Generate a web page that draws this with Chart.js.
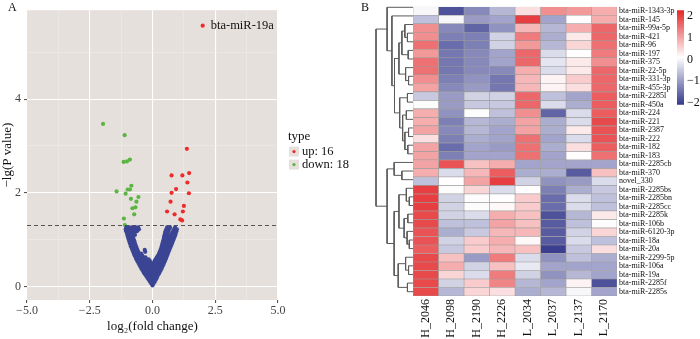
<!DOCTYPE html>
<html>
<head>
<meta charset="utf-8">
<title>miRNA volcano plot and heatmap</title>
<script src="https://cdn.jsdelivr.net/npm/chart.js@4.4.1/dist/chart.umd.min.js"></script>
<style>
  html, body { margin: 0; padding: 0; background: #fff; }
  #fig { position: relative; width: 700px; height: 339px; overflow: hidden; }
  #fig canvas { position: absolute; top: 0; }
  .tag { position: absolute; top: 0; font: 12px "Liberation Serif", serif; color: #111; }
</style>
</head>
<body>
<div id="fig">
  <canvas id="volcano" width="372" height="339" style="left:0"></canvas>
  <canvas id="dendro" width="43" height="339" style="left:370px"></canvas>
  <canvas id="heat" width="295" height="339" style="left:405px"></canvas>
  <canvas id="key" width="32" height="115" style="left:668px"></canvas>
  <div class="tag" style="left:8px">A</div>
  <div class="tag" style="left:361px">B</div>
</div>
<script>
// ---------- panel A: volcano ----------
const xTicks = [-5, -3.75, -2.5, -1.25, 0, 1.25, 2.5, 3.75, 5];
const yTicks = [0, 1, 2, 3, 4, 5];
const cutoff = 1.301; // -lg(0.05)

// significant up (first one is labelled)
const upX = [2.0, 1.37, 0.76, 1.19, 1.46, 1.39, 0.76, 1.45, 0.94, 0.72, 1.25, 0.58, 1.21, 0.88, 1.11, 1.18];
const upY = [5.57, 2.94, 2.37, 2.37, 2.42, 2.22, 2.0, 1.99, 2.08, 1.81, 1.72, 1.60, 1.60, 1.54, 1.43, 1.41];
const upName = 'bta-miR-19a';

// significant down
const downX = [-1.97, -1.11, -1.15, -1.02, -0.90, -0.84, -1.43, -0.99, -0.90, -1.07, -0.56, -0.86, -0.64, -0.68, -0.80, -0.73, -1.14, -1.10];
const downY = [3.47, 3.23, 2.66, 2.67, 2.71, 2.15, 2.03, 2.07, 2.07, 1.98, 1.91, 1.87, 1.81, 1.69, 1.67, 1.54, 1.45, 1.31];

// not significant, read row by row: [-lg p, [log2 fc ...]]
const blueLevels = [
  [0.02, [0]],
  [0.06, [-0.05, 0.04]],
  [0.10, [-0.1, -0.02, 0.05, 0.09]],
  [0.14, [-0.15, -0.07, 0.01, 0.08, 0.13]],
  [0.18, [-0.2, -0.11, -0.02, 0.06, 0.13, 0.17]],
  [0.22, [-0.25, -0.16, -0.07, 0.02, 0.11, 0.2]],
  [0.26, [-0.3, -0.2, -0.11, -0.02, 0.07, 0.16, 0.24]],
  [0.30, [-0.35, -0.25, -0.15, -0.06, 0.03, 0.12, 0.2, 0.28]],
  [0.34, [-0.39, -0.3, -0.2, -0.1, 0, 0.09, 0.18, 0.26, 0.32]],
  [0.38, [-0.44, -0.34, -0.24, -0.14, -0.04, 0.06, 0.15, 0.24, 0.31, 0.36]],
  [0.42, [-0.48, -0.38, -0.28, -0.18, -0.08, 0.02, 0.12, 0.21, 0.3, 0.39]],
  [0.46, [-0.52, -0.42, -0.32, -0.22, -0.12, -0.02, 0.09, 0.19, 0.28, 0.36, 0.43]],
  [0.50, [-0.56, -0.46, -0.36, -0.26, -0.16, -0.06, 0.06, 0.16, 0.25, 0.34, 0.42, 0.46]],
  [0.54, [-0.6, -0.5, -0.4, -0.3, -0.2, -0.1, 0.08, 0.18, 0.27, 0.36, 0.44, 0.49]],
  [0.58, [-0.64, -0.54, -0.44, -0.34, -0.24, -0.15, 0.12, 0.22, 0.31, 0.4, 0.48, 0.52]],
  [0.62, [-0.67, -0.57, -0.47, -0.37, -0.28, 0.17, 0.27, 0.36, 0.45, 0.55]],
  [0.66, [-0.71, -0.61, -0.51, -0.41, 0.22, 0.31, 0.4, 0.49, 0.58]],
  [0.70, [-0.74, -0.64, -0.54, -0.45, 0.26, 0.35, 0.44, 0.53, 0.61]],
  [0.74, [-0.77, -0.67, -0.57, -0.29, 0.29, 0.38, 0.47, 0.56, 0.64]],
  [0.78, [-0.8, -0.7, -0.6, -0.31, 0.32, 0.41, 0.5, 0.59, 0.67]],
  [0.82, [-0.83, -0.73, -0.63, 0.35, 0.44, 0.53, 0.62, 0.7]],
  [0.86, [-0.86, -0.76, -0.66, 0.37, 0.46, 0.56, 0.65, 0.73]],
  [0.90, [-0.88, -0.79, -0.69, 0.39, 0.49, 0.59, 0.68, 0.76]],
  [0.94, [-0.91, -0.81, -0.71, 0.41, 0.51, 0.61, 0.71, 0.79]],
  [0.98, [-0.93, -0.83, -0.73, 0.43, 0.53, 0.64, 0.74, 0.82]],
  [1.02, [-0.96, -0.86, -0.76, 0.45, 0.55, 0.67, 0.77, 0.85]],
  [1.06, [-0.98, -0.88, -0.78, 0.46, 0.57, 0.7, 0.8, 0.88]],
  [1.10, [-1.0, -0.9, -0.8, -0.7, 0.48, 0.59, 0.74, 0.84, 0.91]],
  [1.14, [-1.02, -0.93, -0.83, -0.72, 0.5, 0.61, 0.78, 0.87, 0.93]],
  [1.18, [-1.05, -0.95, -0.85, -0.74, -0.62, 0.52, 0.63, 0.82, 0.95]],
  [1.22, [-1.07, -0.97, -0.87, -0.76, -0.64, -0.54, 0.55, 0.66, 0.86, 0.97]],
  [1.26, [-1.04, -0.92, -0.8, -0.67, -0.57, 0.58, 0.7, 0.9]]
];

// ---------- panel B: heatmap ----------
const samples = ['H_2046', 'H_2098', 'H_2190', 'H_2226', 'L_2034', 'L_2037', 'L_2137', 'L_2170'];
const mirnas = ['bta-miR-1343-3p', 'bta-miR-145', 'bta-miR-99a-5p', 'bta-miR-421', 'bta-miR-96',
  'bta-miR-197', 'bta-miR-375', 'bta-miR-22-5p', 'bta-miR-331-3p', 'bta-miR-455-3p', 'bta-miR-2285l',
  'bta-miR-450a', 'bta-miR-224', 'bta-miR-221', 'bta-miR-2387', 'bta-miR-222', 'bta-miR-182',
  'bta-miR-183', 'bta-miR-2285cb', 'bta-miR-370', 'novel_330', 'bta-miR-2285bs', 'bta-miR-2285bn',
  'bta-miR-2285cc', 'bta-miR-2285k', 'bta-miR-106b', 'bta-miR-6120-3p', 'bta-miR-18a', 'bta-miR-20a',
  'bta-miR-2299-5p', 'bta-miR-106a', 'bta-miR-19a', 'bta-miR-2285f', 'bta-miR-2285s'];

// row-scaled expression, one array per sample (same order as mirnas)
const h2046 = [0, -0.6, 1.2, 1.2, 1.5, 1.1, 1.5, 1.5, 1.2, 1.0, -0.5, 0.05, 0.9, 0.9, 1.0, 0.4, 1.0, 1.0, 1.0, 0.9, -0.6, 2.0, 2.0, 2.0, 1.9, 1.9, 1.8, 1.8, 1.7, 1.9, 1.9, 1.9, 1.9, 1.9];
const h2098 = [-1.8, 0, -1.2, -1.3, -1.5, -1.4, -1.4, -1.4, -1.3, -1.2, -1.0, -1.0, -1.1, -1.3, -1.2, -1.3, -1.5, -1.3, 1.8, -0.3, 0.1, 0.05, -0.4, -0.4, -0.4, -0.6, -0.8, -0.4, -0.5, 0.7, 0.9, 0.5, -0.4, -0.7];
const h2190 = [-1.2, -1.0, -1.6, -1.3, -1.3, -1.2, -1.2, -1.2, -1.1, -1.0, -0.4, -0.5, 0.05, -0.7, -0.7, -0.8, -0.9, -0.9, 0.7, 0.8, 1.0, 0.5, 0.05, 0.05, -0.3, -0.6, -0.5, 0.6, 0.6, -1.0, -0.4, -0.3, 0.6, 0.5];
const h2226 = [-0.7, -0.9, -1.1, -0.4, -0.4, -0.9, -0.9, -1.2, -1.4, -1.4, -0.4, -0.5, -0.6, -0.8, -0.9, -0.9, -1.0, -0.9, 0.9, 1.7, 2.0, -0.3, 0.1, 0.15, 0.9, 1.0, 0.8, 0.9, 0.8, 1.4, 0.7, 1.4, 1.3, 0.4];
const l2034 = [0.4, 2.0, 0.8, 1.4, 1.1, 1.6, 1.6, 0.9, 0.8, 0.8, 1.6, 1.6, 1.2, 1.0, 1.0, 1.5, 1.5, 1.5, -0.9, -0.8, -0.4, 0.1, 0.6, 0.6, 0.7, 0.7, 0.8, 0.15, 0.7, -0.3, -0.15, -0.4, -0.7, -0.8];
const l2037 = [1.2, -0.9, -0.7, -0.8, -0.7, -0.3, -0.2, -0.3, 0.2, 0.2, -0.6, -0.3, -1.6, -0.8, -0.8, -0.9, -0.8, -0.9, -0.9, -0.8, -1.1, -1.3, -1.5, -1.5, -1.8, -1.7, -1.7, -1.7, -2.0, -1.1, -0.9, -1.1, -0.9, -0.7];
const l2137 = [1.1, 0.1, 0.9, 0.3, 0.5, 0.1, 0.3, 0.3, 0.6, 0.4, -0.9, -0.8, -0.3, -0.3, 0.3, -0.3, 0.4, 0.1, -0.9, -1.7, -1.0, -0.8, -0.3, -0.3, -0.7, -0.6, -0.4, -0.3, -0.5, -0.6, -0.9, -0.7, 0.2, 0];
const l2170 = [0.9, 0.9, 1.6, 1.6, 1.5, 1.4, 1.2, 1.6, 1.6, 1.6, 1.7, 1.7, 1.7, 1.9, 1.8, 1.8, 1.7, 1.5, -0.9, 0.7, -0.3, -0.5, -0.6, -0.6, 0.3, 0.05, 0.5, -0.6, 0.4, -0.8, -0.9, -0.9, -1.8, -0.9];
const sampleValues = [h2046, h2098, h2190, h2226, l2034, l2037, l2137, l2170];

// colour key
const keyMin = -2.08, keyMax = 2.25;
const keyTicks = [-2, -1, 0, 1, 2];

// row dendrogram, hclust style: negative = leaf (row index + 1), positive = earlier merge
const treeMerge = [
  [-4, -5], [-3, 1], [-6, -7], [2, 3], [-9, -10], [-8, 5], [4, 6], [-11, -12], [-13, -14],
  [-15, -16], [-17, -18], [10, 11], [9, 12], [8, 13], [7, 14], [-2, 15], [-1, 16],
  [-20, -21], [-19, 18], [-23, -24], [-22, 20], [-25, -26], [-28, -29], [-27, 23], [22, 24],
  [21, 25], [-31, -32], [-30, 27], [-33, -34], [28, 29], [26, 30], [19, 31], [17, 32]
];
const treeHeight = [1.5, 2.2, 1.3, 3.0, 1.2, 2.0, 3.8, 1.5, 1.8, 1.2, 1.4, 2.2, 2.8, 3.6, 5.0, 5.7, 7.0,
  3.0, 5.1, 1.0, 1.8, 1.4, 1.0, 1.6, 2.4, 3.8, 1.2, 2.0, 1.5, 4.0, 5.1, 7.0, 10];

// ---------- common ----------
const SERIF = "'Liberation Serif', 'Times New Roman', serif";
Chart.defaults.font.family = SERIF;
Chart.defaults.animation = false;
Chart.defaults.responsive = false;
Chart.defaults.plugins.legend.display = false;
Chart.defaults.plugins.tooltip.enabled = false;

const panelGrey = '#e6e0dd';
const upColor = '#ee2a2a', downColor = '#5cb540', flatColor = '#3b4594';
const fmtMinus = (s) => String(s).replace('-', '\u2212');

// ---------- volcano ----------
const bluePts = blueLevels.flatMap(([y, xs]) => xs.map(x => ({ x, y })));
const upPts = upX.map((x, i) => ({ x, y: upY[i] }));
const downPts = downX.map((x, i) => ({ x, y: downY[i] }));
const xMajor = (v) => Math.abs(v / 2.5 - Math.round(v / 2.5)) < 1e-6;
const yMajor = (v) => v % 2 === 0;

const panelBg = {
  id: 'panelBg',
  beforeDraw(chart) {
    const { ctx, chartArea: a } = chart;
    ctx.save();
    ctx.fillStyle = panelGrey;
    ctx.fillRect(a.left, a.top, a.width, a.height);
    ctx.restore();
  }
};

const pointName = {
  id: 'pointName',
  afterDatasetsDraw(chart) {
    const p = chart.getDatasetMeta(2).data[0];
    const ctx = chart.ctx;
    ctx.save();
    ctx.font = '12.5px ' + SERIF;
    ctx.fillStyle = '#111';
    ctx.textBaseline = 'middle';
    ctx.fillText(upName, p.x + 8, p.y);
    ctx.restore();
  }
};

const typeLegend = {
  id: 'typeLegend',
  afterDraw(chart) {
    const { ctx, chartArea: a } = chart;
    const x0 = a.right + 10;
    const yc = (a.top + a.bottom) / 2;
    ctx.save();
    ctx.textBaseline = 'middle';
    ctx.fillStyle = '#111';
    ctx.font = '13px ' + SERIF;
    ctx.fillText('type', x0, yc - 19);
    const items = chart.data.datasets.filter(d => d.inLegend);
    items.forEach((d, i) => {
      const y = yc - 3.5 + i * 13;
      ctx.fillStyle = panelGrey;
      ctx.fillRect(x0 + 1, y - 5, 10, 10);
      ctx.fillStyle = d.backgroundColor;
      ctx.beginPath();
      ctx.arc(x0 + 6, y, 1.6, 0, Math.PI * 2);
      ctx.fill();
      ctx.fillStyle = '#111';
      ctx.font = '12.5px ' + SERIF;
      ctx.fillText(d.label, x0 + 14, y + 0.5);
    });
    ctx.restore();
  }
};

new Chart(document.getElementById('volcano'), {
  type: 'scatter',
  data: {
    datasets: [
      { label: 'normal', data: bluePts, backgroundColor: flatColor, pointRadius: 2.1, borderWidth: 0 },
      { label: 'p = 0.05', type: 'line', data: [{ x: -5, y: cutoff }, { x: 5, y: cutoff }],
        borderColor: '#555', borderDash: [4, 3], borderWidth: 1.2, pointRadius: 0 },
      { label: 'up: ' + upX.length, inLegend: true, data: upPts, backgroundColor: upColor, pointRadius: 2.1, borderWidth: 0 },
      { label: 'down: ' + downX.length, inLegend: true, data: downPts, backgroundColor: downColor, pointRadius: 2.1, borderWidth: 0 }
    ]
  },
  options: {
    layout: { padding: { top: 3, right: 94, left: 0, bottom: 0 } },
    scales: {
      x: {
        type: 'linear', min: -5, max: 5,
        afterBuildTicks: (s) => { s.ticks = xTicks.map(v => ({ value: v })); },
        afterFit: (s) => { s.height = 39; },
        ticks: {
          autoSkip: false, maxRotation: 0, padding: 1, color: '#444', font: { size: 12 },
          callback: (v) => xMajor(v) ? fmtMinus(v.toFixed(1)) : ''
        },
        grid: {
          color: (c) => xMajor(c.tick.value) ? '#ffffff' : '#efebe9',
          lineWidth: (c) => xMajor(c.tick.value) ? 1.1 : 0.6,
          tickColor: (c) => xMajor(c.tick.value) ? '#555' : 'rgba(0,0,0,0)',
          tickLength: 3
        },
        border: { display: false },
        title: { display: true, text: 'log\u2082(fold change)', color: '#111', font: { size: 13 }, padding: { top: 0, bottom: 5 } }
      },
      y: {
        type: 'linear', min: -0.29, max: 5.9,
        afterBuildTicks: (s) => { s.ticks = yTicks.map(v => ({ value: v })); },
        afterFit: (s) => { s.width = 27; },
        ticks: {
          autoSkip: false, padding: 3, color: '#444', font: { size: 12 },
          callback: (v) => yMajor(v) ? String(v) : ''
        },
        grid: {
          color: (c) => yMajor(c.tick.value) ? '#ffffff' : '#efebe9',
          lineWidth: (c) => yMajor(c.tick.value) ? 1.1 : 0.6,
          tickColor: (c) => yMajor(c.tick.value) ? '#555' : 'rgba(0,0,0,0)',
          tickLength: 3
        },
        border: { display: false },
        title: { display: true, text: '\u2212lg(P value)', color: '#111', font: { size: 13 }, padding: { top: 0, bottom: 0 } }
      }
    }
  },
  plugins: [panelBg, pointName, typeLegend]
});

// ---------- dendrogram ----------
function dendroSets() {
  const pos = [];
  const node = (k) => k < 0 ? { y: -k - 1, h: 0 } : pos[k - 1];
  return treeMerge.map(([a, b], i) => {
    const A = node(a), B = node(b), h = treeHeight[i];
    pos.push({ y: (A.y + B.y) / 2, h });
    return {
      data: [{ x: A.h, y: A.y }, { x: h, y: A.y }, { x: h, y: B.y }, { x: B.h, y: B.y }],
      showLine: true, borderColor: '#5a5a5a', borderWidth: 1, pointRadius: 0, tension: 0, clip: false
    };
  });
}

new Chart(document.getElementById('dendro'), {
  type: 'scatter',
  data: { datasets: dendroSets() },
  options: {
    layout: { padding: { top: 3, bottom: 43, left: 6, right: 0 } },
    scales: {
      x: { type: 'linear', min: 0, max: 10, reverse: true, display: false },
      y: { type: 'linear', min: -0.5, max: mirnas.length - 0.5, reverse: true, display: false }
    }
  }
});

// ---------- heatmap ----------
const lowRGB = [52, 56, 140], midRGB = [255, 255, 255], highRGB = [228, 38, 40];
function heatColor(v) {
  const t = (v - keyMin) / (keyMax - keyMin);
  const from = t < 0.5 ? lowRGB : midRGB;
  const to = t < 0.5 ? midRGB : highRGB;
  const f = t < 0.5 ? t / 0.5 : (t - 0.5) / 0.5;
  const c = from.map((m, k) => Math.round(m + (to[k] - m) * Math.max(0, Math.min(1, f))));
  return 'rgb(' + c.join(',') + ')';
}

new Chart(document.getElementById('heat'), {
  type: 'bar',
  data: {
    labels: mirnas,
    datasets: samples.map((name, c) => ({
      label: name,
      data: mirnas.map(() => 1),
      backgroundColor: sampleValues[c].map(heatColor),
      borderColor: '#9b9b9b', borderWidth: 0.6, borderSkipped: false,
      barPercentage: 1, categoryPercentage: 1
    }))
  },
  options: {
    indexAxis: 'y',
    layout: { padding: { top: 3, left: 8, right: 0, bottom: 0 } },
    scales: {
      x: {
        type: 'linear', stacked: true, min: 0, max: samples.length,
        afterBuildTicks: (s) => { s.ticks = samples.map((n, i) => ({ value: i + 0.5 })); },
        afterFit: (s) => { s.height = 43; },
        ticks: { autoSkip: false, minRotation: 90, maxRotation: 90, padding: 3, color: '#111', font: { size: 12 },
          callback: (v, i) => samples[i] },
        grid: { display: false, drawTicks: false },
        border: { display: false }
      },
      y: {
        type: 'category', stacked: true, position: 'right', offset: true,
        afterFit: (s) => { s.width = 83; },
        ticks: { autoSkip: false, padding: 2, color: '#111', font: { size: 8 } },
        grid: { display: false, drawTicks: false },
        border: { display: false }
      }
    }
  }
});

// ---------- colour key ----------
new Chart(document.getElementById('key'), {
  type: 'bar',
  data: {
    labels: [''],
    datasets: [{
      data: [[keyMin, keyMax]],
      barPercentage: 1, categoryPercentage: 1, borderWidth: 0,
      backgroundColor: (c) => {
        const a = c.chart.chartArea;
        if (!a) return null;
        const g = c.chart.ctx.createLinearGradient(0, a.bottom, 0, a.top);
        g.addColorStop(0, heatColor(keyMin));
        g.addColorStop(0.5, heatColor((keyMin + keyMax) / 2));
        g.addColorStop(1, heatColor(keyMax));
        return g;
      }
    }]
  },
  options: {
    layout: { padding: { top: 2, bottom: 8, left: 9, right: 0 } },
    scales: {
      x: { display: false },
      y: {
        type: 'linear', position: 'right', min: keyMin, max: keyMax,
        afterBuildTicks: (s) => { s.ticks = keyTicks.map(v => ({ value: v })); },
        afterFit: (s) => { s.width = 16; },
        ticks: { padding: 3, color: '#111', font: { size: 12 }, callback: (v) => fmtMinus(v) },
        grid: { display: false, drawTicks: false },
        border: { display: false }
      }
    }
  }
});
</script>
</body>
</html>
